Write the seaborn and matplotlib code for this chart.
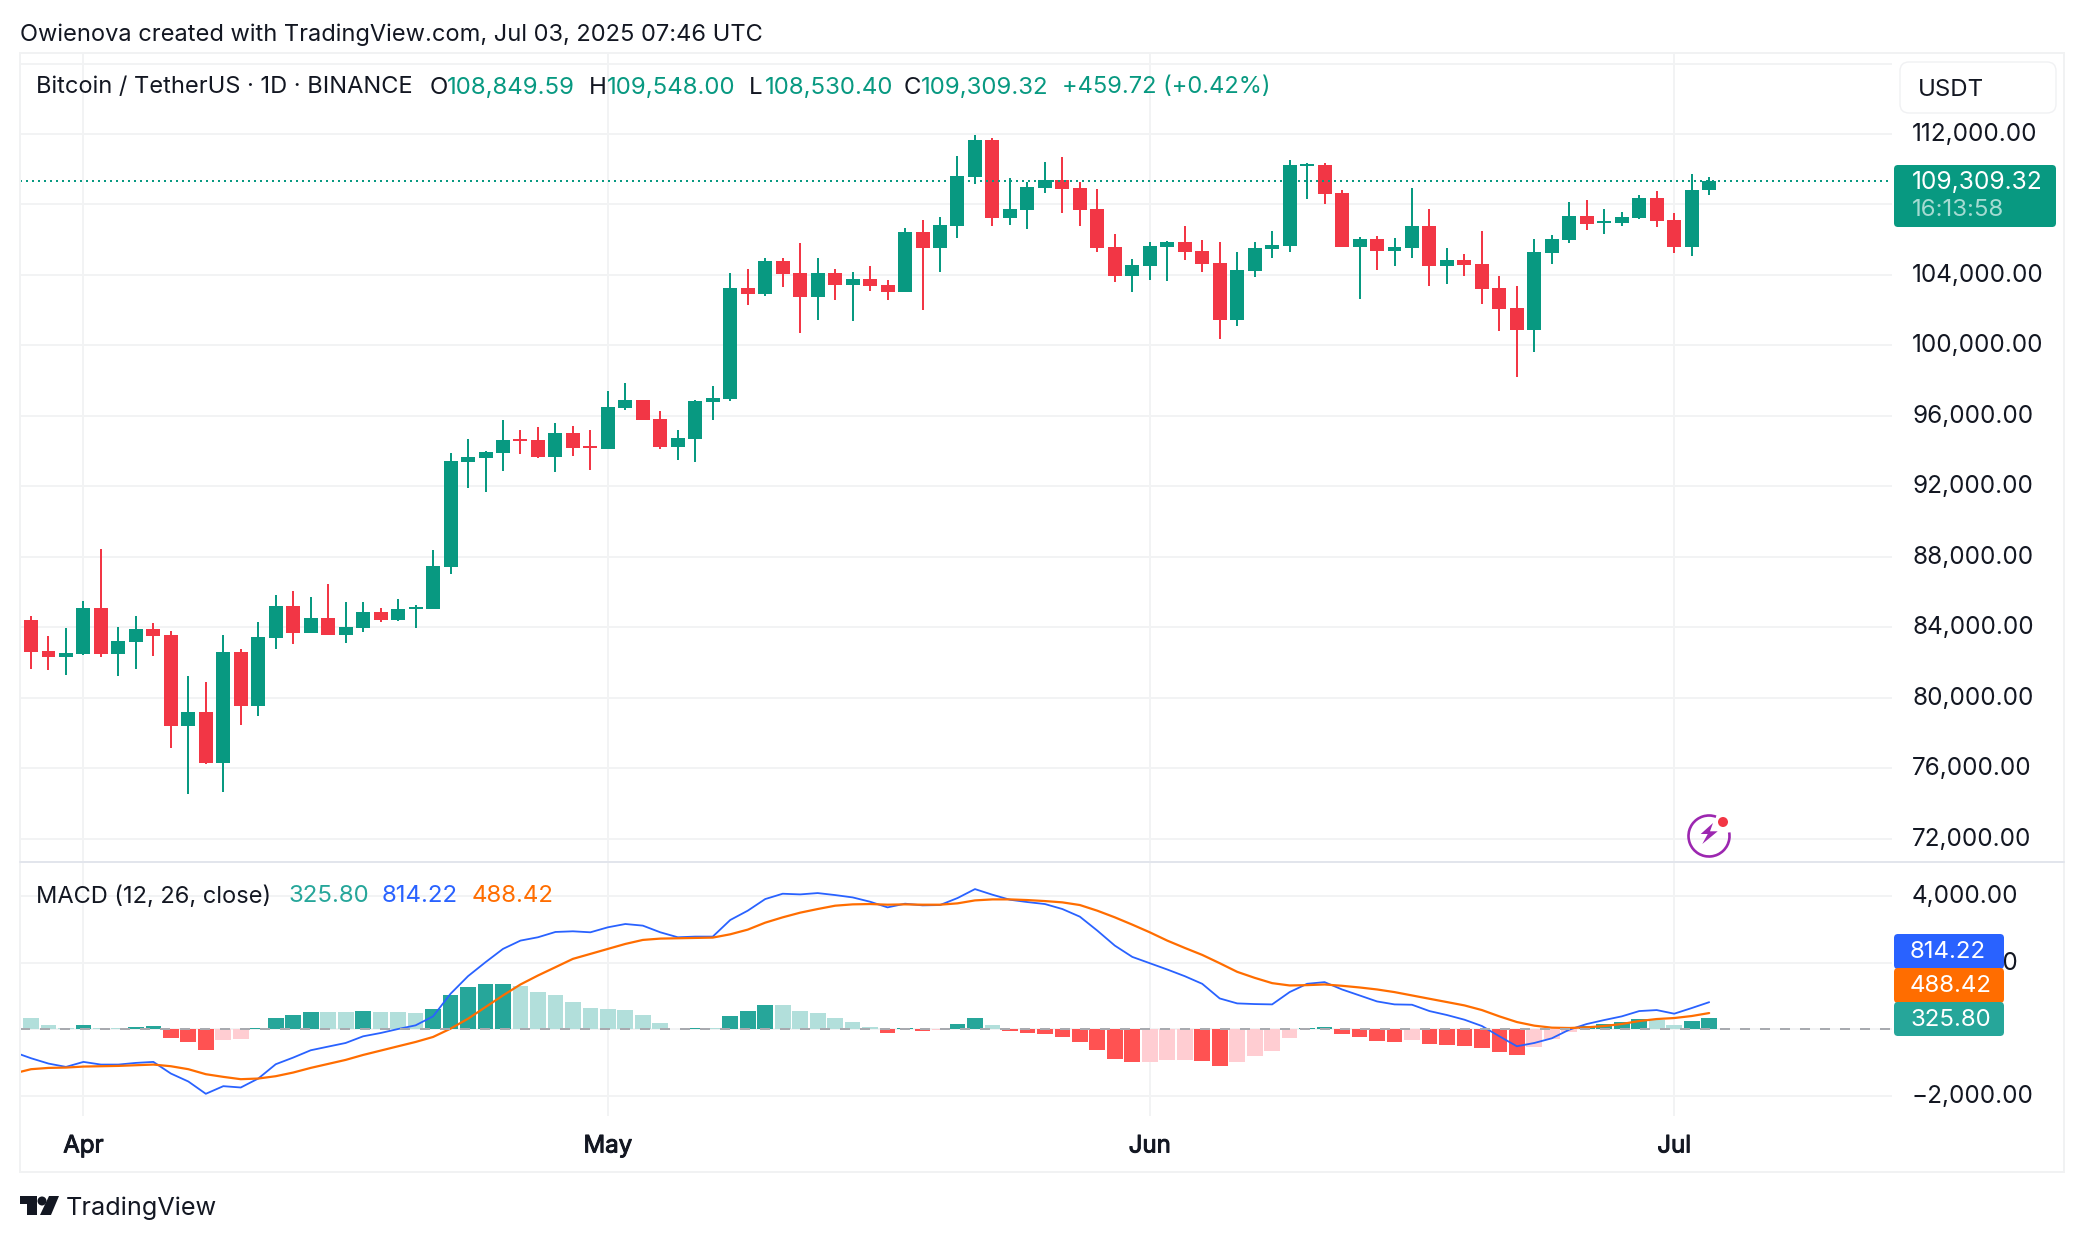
import numpy as np
import pandas as pd
import seaborn as sns
import matplotlib
matplotlib.use('Agg')
import matplotlib.pyplot as plt
import matplotlib.patheffects as pe
from matplotlib.patches import FancyBboxPatch, Arc, Circle, Polygon, Rectangle
from matplotlib.transforms import ScaledTranslation

# Daily candles, Mar 29 to Jul 3 2025
open_prices = [84396, 82641, 82302, 82472, 85132, 82472, 83151, 83887, 83547, 78396,
               79188, 76301, 82585, 79528, 83377, 85245, 83660, 84566, 83547, 83943,
               84906, 84396, 85076, 85076, 87453, 93388, 93615, 93899, 94694, 94637,
               93672, 95035, 94296, 94126, 96454, 96909, 95830, 94240, 94694, 96795,
               96965, 103269, 102928, 104802, 104121, 102758, 104121, 103440, 103780, 103440,
               103038, 106434, 105528, 106774, 109548, 111642, 107227, 107680, 108925, 109378,
               108925, 107736, 105585, 103943, 104509, 105585, 105868, 105358, 104679, 101453,
               104226, 105472, 105642, 110170, 110227, 108642, 105585, 106038, 105358, 105528,
               106774, 104509, 104849, 104623, 103264, 102132, 100887, 105245, 105981, 107340,
               106944, 106944, 107227, 108359, 107114, 105585, 108849.59]
close_prices = [82585, 82302, 82528, 85132, 82472, 83207, 83887, 83490, 78396, 79188,
                76301, 82585, 79528, 83434, 85245, 83660, 84566, 83547, 84000, 84906,
                84396, 85076, 85189, 87510, 93444, 93672, 93956, 94637, 94580, 93672,
                95035, 94183, 94183, 96511, 96909, 95773, 94240, 94751, 96852, 97022,
                103269, 102928, 104802, 104064, 102758, 104121, 103440, 103780, 103383, 103042,
                106434, 105528, 106830, 109604, 111642, 107227, 107736, 108982, 109378, 108868,
                107680, 105528, 103943, 104566, 105642, 105868, 105302, 104623, 101453, 104283,
                105528, 105698, 110227, 110284, 108585, 105585, 106038, 105358, 105585, 106774,
                104509, 104849, 104566, 103208, 102075, 100887, 105302, 106038, 107340, 106887,
                107057, 107283, 108359, 107057, 105585, 108812, 109309.32]
high_prices = [84623, 83490, 83943, 85528, 88472, 84000, 84679, 84226, 83774, 81226,
               80886, 83547, 82755, 84283, 85868, 86095, 85755, 86491, 85472, 85472,
               85132, 85642, 85302, 88416, 93899, 94694, 94012, 95773, 95205, 95375,
               95602, 95432, 95205, 97420, 97874, 96909, 96284, 95205, 96909, 97704,
               104121, 104348, 104973, 104973, 105825, 104973, 104348, 104178, 104519, 103723,
               106661, 107114, 107283, 110737, 111925, 111755, 109491, 109265, 110397, 110680,
               109265, 108868, 106321, 104906, 105868, 105925, 106774, 105981, 105868, 105302,
               105868, 106491, 110510, 110340, 110340, 108812, 106151, 106208, 106095, 108925,
               107736, 105528, 105189, 106491, 103943, 103377, 106038, 106264, 108132, 108246,
               107736, 107566, 108529, 108755, 107510, 109717, 109548]
low_prices = [81622, 81566, 81283, 82415, 82302, 81226, 81622, 82358, 77150, 74546,
              76245, 74659, 78452, 78962, 82755, 83038, 83660, 83547, 83094, 83717,
              84283, 84340, 83943, 85076, 87057, 91911, 91684, 92877, 93842, 93615,
              92820, 93728, 92933, 94126, 96341, 95773, 94126, 93501, 93388, 95773,
              96852, 102304, 102815, 103326, 100714, 101452, 102588, 101395, 103099, 102588,
              103038, 102019, 104170, 106095, 109151, 106774, 106830, 106604, 108642, 107510,
              106774, 105302, 103604, 103038, 103717, 103660, 104849, 104170, 100377, 101113,
              103887, 104962, 105302, 108302, 108019, 105585, 102641, 104283, 104509, 104962,
              103377, 103491, 103943, 102358, 100830, 98226, 99642, 104623, 105811, 106547,
              106321, 106774, 107170, 106717, 105245, 105076, 108530.40]

# MACD pane
histogram = [330, 120, 30, 120, 30, 30, 60, 90, -270, -390,
             -630, -330, -300, 30, 330, 420, 510, 510, 510, 540,
             510, 510, 480, 600, 1020, 1260, 1350, 1360, 1290, 1110,
             1020, 810, 630, 600, 570, 420, 180, 20, 30, 30,
             390, 540, 720, 720, 540, 480, 330, 210, 60, -120,
             30, -60, -30, 150, 330, 120, -60, -120, -150, -240,
             -390, -630, -900, -990, -990, -930, -930, -935, -1110, -990,
             -810, -660, -270, 30, 60, -150, -240, -360, -390, -330,
             -450, -480, -485, -570, -690, -780, -540, -300, -90, 90,
             150, 210, 300, 270, 120, 240, 325.80]
# these two start one day before the first candle, the line runs off the left edge
macd_line = [-680, -867, -1027, -1127, -977, -1057, -1057, -1007, -977, -1326,
             -1565, -1934, -1705, -1745, -1476, -1047, -847, -628, -518, -409,
             -209, -110, 10, 120, 389, 1067, 1595, 2014, 2413, 2662,
             2762, 2921, 2941, 2911, 3061, 3160, 3111, 2911, 2762, 2782,
             2782, 3280, 3559, 3908, 4068, 4048, 4088, 4028, 3958, 3828,
             3659, 3769, 3719, 3729, 3938, 4207, 4038, 3888, 3818, 3759,
             3609, 3380, 2961, 2512, 2173, 1984, 1795, 1595, 1366, 927,
             778, 758, 748, 1117, 1366, 1416, 1196, 1017, 837, 748,
             738, 548, 429, 289, 100, -209, -508, -409, -269, -10,
             160, 279, 389, 548, 578, 469, 638, 814.22]
signal_line = [-1326, -1196, -1157, -1147, -1117, -1107, -1097, -1077, -1057, -1107,
               -1196, -1346, -1426, -1496, -1476, -1406, -1296, -1157, -1037, -917,
               -768, -638, -508, -379, -229, 20, 319, 668, 1017, 1346,
               1615, 1864, 2114, 2263, 2413, 2562, 2682, 2722, 2732, 2742,
               2752, 2851, 2991, 3200, 3360, 3500, 3609, 3709, 3749, 3759,
               3739, 3749, 3739, 3739, 3779, 3868, 3898, 3898, 3878, 3848,
               3809, 3729, 3559, 3360, 3141, 2911, 2662, 2443, 2233, 1984,
               1725, 1545, 1386, 1316, 1326, 1346, 1306, 1256, 1196, 1117,
               1017, 917, 818, 718, 578, 389, 219, 110, 50, 40,
               60, 100, 160, 249, 309, 339, 399, 488.42]

price_ticks = [72000, 76000, 80000, 84000, 88000, 92000, 96000, 100000, 104000, 108000, 112000, 116000]
macd_ticks = [-2000, 0, 2000, 4000]
month_days = [3, 33, 64, 94]
month_labels = ['Apr', 'May', 'Jun', 'Jul']
last_price = 109309.32

GREEN = '#089981'
RED = '#F23645'
TEXT = '#131722'
GRID = '#F2F3F4'
BORDER = '#F1F2F3'
W, H = 2084, 1242

sns.set_style('white')
plt.rcParams['font.family'] = ['Inter', 'DejaVu Sans']
plt.rcParams['font.size'] = 17
plt.rcParams['text.color'] = TEXT

days = np.arange(len(open_prices))
candles = pd.DataFrame({'day': days, 'open': open_prices, 'high': high_prices,
                        'low': low_prices, 'close': close_prices})
candles['colour'] = np.where(candles['close'] >= candles['open'], GREEN, RED)

# histogram shade depends on whether the bar grew or shrank against the day before
prev = np.roll(histogram, 1)
prev[0] = 400
hist = pd.DataFrame({'day': days, 'value': histogram, 'prev': prev})
hist['shade'] = np.select(
    [(hist['value'] >= 0) & (hist['value'] > hist['prev']),
     hist['value'] >= 0,
     hist['value'] < hist['prev']],
    ['up strong', 'up weak', 'down strong'], 'down weak')
shades = {'up strong': '#26A69A', 'up weak': '#B2DFDB',
          'down strong': '#FF5252', 'down weak': '#FFCDD2'}
line_days = np.arange(-1, len(open_prices))


def pane(top, bottom):
    return fig.add_axes([20 / W, 1 - bottom / H, (1892 - 20) / W, (bottom - top) / H])


fig = plt.figure(figsize=(W / 100, H / 100), dpi=100)
ax = pane(53, 862)
ax2 = pane(862, 1116)

# Price pane
ax.set_xlim(-0.63, 106.46)
ax.set_ylim(112000 - (862 - 134) * 56.74, 112000 + (134 - 53) * 56.74)
ax.vlines(candles['day'], candles['low'], candles['high'], colors=candles['colour'], linewidth=1.44, zorder=3)
ax.bar(candles['day'], (candles['close'] - candles['open']).abs(),
       bottom=candles[['open', 'close']].min(axis=1), width=0.8,
       color=candles['colour'], linewidth=0, zorder=4)
ax.axhline(last_price, color=GREEN, linewidth=1.44, linestyle=(0, (1, 2)), zorder=5)
ax.set_yticks(price_ticks)
# the top gridline has no label in the picture, the currency box sits there
ax.set_yticklabels([f'{v:,.2f}' if v < 116000 else '' for v in price_ticks])
ax.set_xticks(month_days)
ax.set_xticklabels([])

# MACD pane
ax2.set_ylim(-2600, 5020)
sns.barplot(data=hist, x='day', y='value', hue='shade', palette=shades, native_scale=True,
            dodge=False, width=0.9, saturation=1, linewidth=0, legend=False, ax=ax2, zorder=3)
sns.lineplot(x=line_days, y=macd_line, color='#2962FF', linewidth=1.3, ax=ax2, zorder=4)
sns.lineplot(x=line_days, y=signal_line, color='#FF6D00', linewidth=1.6, ax=ax2, zorder=5)
ax2.axhline(0, color='#A8AAAF', linewidth=1.44, linestyle=(0, (5, 5)), zorder=6)
ax2.set_xlim(-0.63, 106.46)
ax2.set_ylim(-2600, 5020)
ax2.set_yticks(macd_ticks)
ax2.set_yticklabels([f'{v:,.2f}'.replace('-', '\u2212') for v in macd_ticks])
ax2.set_xticks(month_days)
ax2.set_xticklabels(month_labels)
ax2.set_xlabel('')
ax2.set_ylabel('')

nudge_up = ScaledTranslation(0, 2 / 100, fig.dpi_scale_trans)
for a in (ax, ax2):
    a.grid(True, color=GRID, linewidth=1.44, zorder=0)
    a.set_axisbelow(True)
    a.yaxis.tick_right()
    a.tick_params(axis='y', length=0, pad=14.4, labelcolor=TEXT, labelsize=17.5)
    a.tick_params(axis='x', length=0, pad=14, labelcolor=TEXT, labelsize=17.3)
    for t in a.get_yticklabels():
        t.set_transform(t.get_transform() + nudge_up)
    for s in a.spines.values():
        s.set_visible(False)

# Inter only comes in one weight here, so thicken the month names a bit
for t in ax2.get_xticklabels():
    t.set_path_effects([pe.withStroke(linewidth=0.7, foreground=TEXT)])

# Everything the TradingView frame adds goes on a pixel-coordinate overlay
top = fig.add_axes([0, 0, 1, 1], zorder=10)
top.set_xlim(0, W)
top.set_ylim(H, 0)
top.axis('off')
top.patch.set_alpha(0)


def label(x, y, s, color=TEXT, ha='left', **kw):
    top.text(x, y + 2.5, s, color=color, ha=ha, va='center', fontsize=kw.pop('fontsize', 17.3), **kw)


def tag(x0, y0, x1, y1, color):
    top.add_patch(FancyBboxPatch((x0, y0), x1 - x0, y1 - y0, boxstyle='round,pad=0,rounding_size=4',
                                 facecolor=color, edgecolor='none'))


top.add_patch(Rectangle((20, 53), 2044, 1119, fill=False, edgecolor=BORDER, linewidth=1.44))
top.plot([20, 2064], [862, 862], color='#E2E5EC', linewidth=1.44)

label(20, 32, 'Owienova created with TradingView.com, Jul 03, 2025 07:46 UTC', fontsize=17)

label(36, 85, 'Bitcoin / TetherUS \u00b7 1D \u00b7 BINANCE', fontsize=17)
label(430, 85, 'O')
label(447, 85, '108,849.59', GREEN)
label(589, 85, 'H')
label(607, 85, '109,548.00', GREEN)
label(749, 85, 'L')
label(765, 85, '108,530.40', GREEN)
label(904, 85, 'C')
label(921, 85, '109,309.32', GREEN)
label(1062, 85, '+459.72 (+0.42%)', GREEN, fontsize=17)

label(36, 894, 'MACD (12, 26, close)', fontsize=17)
label(288, 894, '325.80', '#26A69A')
label(382, 894, '814.22', '#2962FF')
label(472, 894, '488.42', '#FF6D00')

# currency box
top.add_patch(FancyBboxPatch((1900, 62), 156, 51, boxstyle='round,pad=0,rounding_size=9',
                             facecolor='white', edgecolor='#F0F1F3', linewidth=1))
label(1918, 87, 'USDT')

# last price tag
tag(1894, 165, 2056, 227, GREEN)
label(1912, 180, '109,309.32', 'white', fontsize=17.7)
label(1912, 208, '16:13:58', '#A5DBD2')

# MACD tags
tag(1894, 934, 2004, 969, '#2962FF')
tag(1894, 968, 2004, 1003, '#FF6D00')
tag(1894, 1002, 2004, 1036, '#26A69A')
label(1910, 950, '814.22', 'white')
label(1910, 984, '488.42', 'white')
label(1910, 1018, '325.80', 'white')

# snapshot icon
top.add_patch(Arc((1709, 836), 41, 41, theta1=-10, theta2=290, color='#9C27B0', linewidth=1.9))
top.add_patch(Polygon([(1713, 823), (1700.7, 834), (1707.7, 834), (1702.3, 844), (1717.7, 831.3), (1710, 831.3)],
                      closed=True, facecolor='#9C27B0', edgecolor='none'))
top.add_patch(Circle((1723, 822), 5, facecolor='#F23645', edgecolor='none'))

# logo
top.add_patch(Polygon([(20, 1196), (37, 1196), (37, 1215), (27, 1215), (27, 1204), (20, 1204)],
                      closed=True, facecolor='#131722', edgecolor='none'))
top.add_patch(Circle((42, 1201), 4.5, facecolor='#131722', edgecolor='none'))
top.add_patch(Polygon([(49, 1196), (59, 1196), (51, 1215), (40, 1215)], closed=True,
                      facecolor='#131722', edgecolor='none'))
label(66, 1206, 'TradingView', fontsize=18.2)

fig.savefig('out.png', dpi=100, facecolor='white')
